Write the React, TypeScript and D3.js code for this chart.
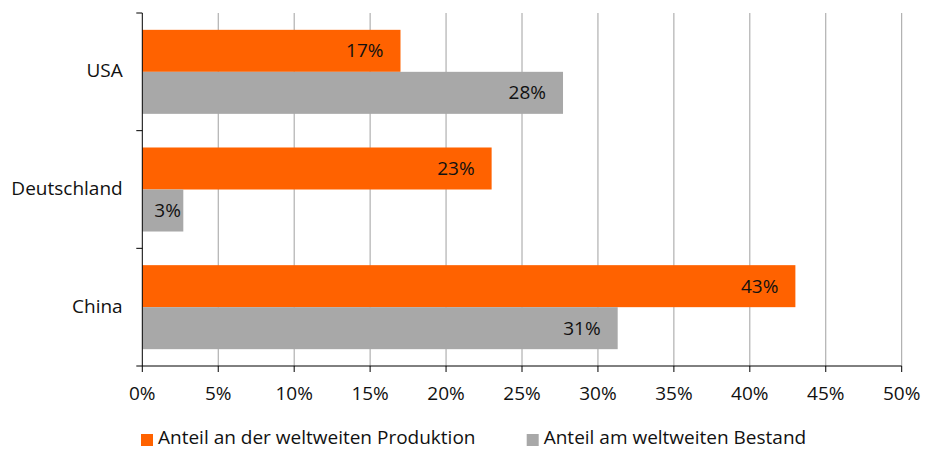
import React from "react";
import * as d3 from "d3";

const categories = ["USA", "Deutschland", "China"];
const seriesNames = ["Anteil an der weltweiten Produktion", "Anteil am weltweiten Bestand"];
const production = [17.0, 23.0, 43.0];
const stock = [27.7, 2.7, 31.3];
const valueLabels = [
  ["17%", "23%", "43%"],
  ["28%", "3%", "31%"],
];
const xTicks = [0, 5, 10, 15, 20, 25, 30, 35, 40, 45, 50];
const colors = ["#FF6200", "#A8A8A8"];

const W = 934;
const H = 450;
const FONT = "'Open Sans', sans-serif";
const FS = 19;
const TEXT = "#111";

export default function App() {
  const left = 142.3;
  const right = 901.7;
  const top = 13;
  const bottom = 366;

  const x = d3.scaleLinear().domain([0, 50]).range([left, right]);
  const y0 = d3
    .scaleBand<string>()
    .domain(categories)
    .range([top, bottom])
    .paddingInner(0.286)
    .paddingOuter(0.143);
  const y1 = d3
    .scaleBand<number>()
    .domain([0, 1])
    .range([0, y0.bandwidth()]);

  const series = [production, stock];
  const step = y0.step();
  const catTicks = d3.range(categories.length + 1).map((i) => top + i * step);

  return (
    <svg
      width={W}
      height={H}
      style={{ position: "absolute", left: 0, top: 0, background: "#fff" }}
      fontFamily={FONT}
    >
      {/* gridlines */}
      {xTicks.slice(1).map((t) => (
        <line
          key={"g" + t}
          x1={x(t)}
          x2={x(t)}
          y1={top}
          y2={bottom}
          stroke="#a0a0a0"
          strokeWidth={1}
        />
      ))}
      {/* bars */}
      {series.map((vals, si) =>
        categories.map((c, ci) => {
          const yy = (y0(c) as number) + (y1(si) as number);
          const w = x(vals[ci]) - x(0);
          const narrow = w < 70;
          return (
            <g key={si + "-" + ci}>
              <rect x={x(0)} y={yy} width={w} height={y1.bandwidth()} fill={colors[si]} />
              <text
                x={narrow ? x(0) + 12 : x(vals[ci]) - 17}
                y={yy + y1.bandwidth() / 2}
                dy="0.35em"
                textAnchor={narrow ? "start" : "end"}
                fontSize={FS}
                fill={TEXT}
              >
                {valueLabels[si][ci]}
              </text>
            </g>
          );
        })
      )}
      {/* y axis */}
      <line x1={left} x2={left} y1={top} y2={bottom} stroke="#000" strokeWidth={1} />
      {catTicks.map((t, i) => (
        <line key={"yt" + i} x1={left - 6} x2={left} y1={t} y2={t} stroke="#000" strokeWidth={1} />
      ))}
      {categories.map((c) => (
        <text
          key={"yl" + c}
          x={122.7}
          y={(y0(c) as number) + y0.bandwidth() / 2 - 1}
          dy="0.35em"
          textAnchor="end"
          fontSize={FS}
          fill={TEXT}
        >
          {c}
        </text>
      ))}
      {/* x axis */}
      <line x1={left} x2={right} y1={bottom} y2={bottom} stroke="#000" strokeWidth={1} />
      {xTicks.map((t) => (
        <g key={"xt" + t}>
          <line x1={x(t)} x2={x(t)} y1={bottom} y2={bottom + 6} stroke="#000" strokeWidth={1} />
          <text x={x(t)} y={400} textAnchor="middle" fontSize={FS} fill={TEXT}>
            {t + "%"}
          </text>
        </g>
      ))}
      {/* legend */}
      {seriesNames.map((n, i) => {
        const lx = i === 0 ? 141 : 526.7;
        return (
          <g key={"lg" + i}>
            <rect x={lx} y={434} width={12} height={12} fill={colors[i]} />
            <text x={lx + 17} y={444} fontSize={FS} fill={TEXT}>
              {n}
            </text>
          </g>
        );
      })}
    </svg>
  );
}
